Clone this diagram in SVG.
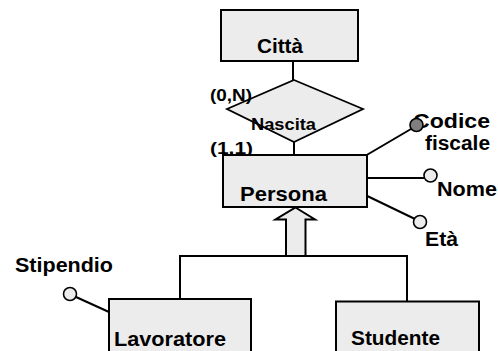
<svg xmlns="http://www.w3.org/2000/svg" width="498" height="351" viewBox="0 0 498 351">
  <style>
    .ent { fill: #ececec; stroke: #000; stroke-width: 2; }
    .rel { fill: #ececec; stroke: #000; stroke-width: 1.8; }
    .lbl { font-family: "Liberation Sans", Arial, sans-serif; font-weight: bold; font-size: 21px; fill: #000; }
    .mid { font-size: 20px; }
    .sm { font-size: 17px; }
    .wire { stroke: #000; stroke-width: 2; fill: none; }
    .attr { fill: #ececec; stroke: #000; stroke-width: 1.6; }
    .key { fill: #7f7f7f; stroke: #000; stroke-width: 1.6; }
    .isa { fill: #ececec; stroke: #000; stroke-width: 2; stroke-linejoin: miter; }
  </style>

  <!-- connectors: relationship links, attribute links, generalisation -->
  <g id="connectors">
    <line class="wire" x1="293" y1="61" x2="293" y2="80"/>
    <line class="wire" x1="294" y1="142" x2="294" y2="155"/>
    <line class="wire" x1="365" y1="156" x2="411" y2="129"/>
    <line class="wire" x1="364" y1="178" x2="424" y2="178"/>
    <line class="wire" x1="361" y1="193" x2="415" y2="219"/>
    <line class="wire" x1="76" y1="297" x2="109" y2="312"/>
    <polyline class="wire" points="180,308 180,256 407,256 407,308"/>
    <polygon class="isa" points="295.5,207.5 315,219.5 305.5,219.5 305.5,256 286,256 286,219.5 275.5,219.5"/>
  </g>

  <g id="citta">
    <rect class="ent" x="221" y="10" width="137" height="51"/>
    <text class="lbl" x="257" y="53" textLength="46" lengthAdjust="spacingAndGlyphs">Città</text>
  </g>

  <g id="nascita">
    <polygon class="rel" points="294,80 363,109 294,142 227,109"/>
    <text class="lbl sm" x="251" y="130" textLength="65" lengthAdjust="spacingAndGlyphs">Nascita</text>
    <text class="lbl sm" x="210" y="101" textLength="42" lengthAdjust="spacingAndGlyphs">(0,N)</text>
    <text class="lbl sm" x="210" y="154" textLength="43" lengthAdjust="spacingAndGlyphs">(1,1)</text>
  </g>

  <g id="persona">
    <rect class="ent" x="223" y="155" width="144" height="52"/>
    <text class="lbl" x="240" y="201" textLength="87" lengthAdjust="spacingAndGlyphs">Persona</text>
  </g>

  <g id="codice-fiscale">
    <text class="lbl mid" x="413" y="128" textLength="77" lengthAdjust="spacingAndGlyphs">Codice</text>
    <circle class="key" cx="416.5" cy="125" r="6.5"/>
    <text class="lbl mid" x="425" y="150" textLength="65" lengthAdjust="spacingAndGlyphs">fiscale</text>
  </g>

  <g id="nome">
    <circle class="attr" cx="430.5" cy="175.5" r="6.5"/>
    <text class="lbl" x="437" y="196" textLength="60" lengthAdjust="spacingAndGlyphs">Nome</text>
  </g>

  <g id="eta">
    <circle class="attr" cx="420" cy="222" r="6.5"/>
    <text class="lbl" x="425" y="246" textLength="33" lengthAdjust="spacingAndGlyphs">Età</text>
  </g>

  <g id="stipendio">
    <text class="lbl" x="15" y="272" textLength="98" lengthAdjust="spacingAndGlyphs">Stipendio</text>
    <circle class="attr" cx="70" cy="294" r="6.5"/>
  </g>

  <g id="lavoratore">
    <rect class="ent" x="109" y="299" width="142" height="62"/>
    <text class="lbl" x="114" y="346" textLength="112" lengthAdjust="spacingAndGlyphs">Lavoratore</text>
  </g>

  <g id="studente">
    <rect class="ent" x="336" y="301.5" width="143" height="60"/>
    <text class="lbl" x="351" y="345" textLength="89" lengthAdjust="spacingAndGlyphs">Studente</text>
  </g>
</svg>
